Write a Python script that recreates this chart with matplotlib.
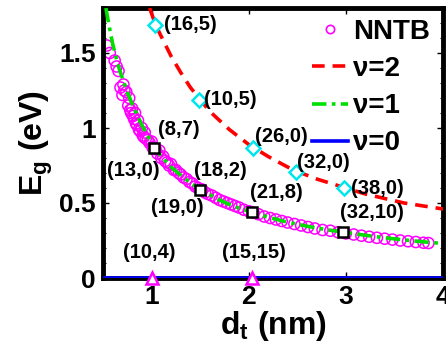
import matplotlib
matplotlib.use("Agg")
import matplotlib.pyplot as plt
from matplotlib.ticker import MultipleLocator

plt.rcParams['font.family'] = ['Liberation Sans', 'DejaVu Sans']
plt.rcParams['font.weight'] = 'bold'
plt.rcParams['mathtext.fontset'] = 'custom'
plt.rcParams['mathtext.rm'] = 'Liberation Sans:bold'
plt.rcParams['mathtext.it'] = 'Liberation Sans:bold'
plt.rcParams['mathtext.bf'] = 'Liberation Sans:bold'
plt.rcParams['mathtext.default'] = 'rm'

# ---- data ----
# NNTB scatter (diameter nm, gap eV)
nntb_d = [0.54, 0.57, 0.62, 0.64, 0.66, 0.68, 0.70, 0.71, 0.72, 0.74, 0.76, 0.77, 0.78,
          0.79, 0.80, 0.81, 0.82, 0.83, 0.84, 0.85, 0.86, 0.87, 0.88, 0.90, 0.91, 0.92,
          0.93, 0.94, 0.96, 0.98, 1.00, 1.01, 1.04, 1.06, 1.08, 1.10, 1.12, 1.14, 1.16,
          1.18, 1.20, 1.23, 1.25, 1.28, 1.30, 1.33, 1.36, 1.39, 1.42, 1.45, 1.48, 1.52,
          1.55, 1.58, 1.62, 1.66, 1.70, 1.74, 1.78, 1.82, 1.86, 1.90, 1.95, 2.00, 2.05,
          2.10, 2.16, 2.22, 2.28, 2.34, 2.40, 2.47, 2.54, 2.61, 2.68, 2.76, 2.84, 2.92,
          3.00, 3.08, 3.16, 3.24, 3.32, 3.40, 3.48, 3.56, 3.64, 3.72, 3.80, 3.85]
nntb_eg = [1.55, 1.50, 1.45, 1.41, 1.38, 1.27, 1.22, 1.29, 1.25, 1.24, 1.15, 1.20, 1.12,
           1.10, 1.13, 1.08, 1.06, 1.10, 1.03, 1.02, 1.05, 0.99, 0.98, 1.00, 0.95, 0.94,
           0.97, 0.93, 0.92, 0.90, 0.91, 0.87, 0.86, 0.83, 0.85, 0.80, 0.81, 0.78, 0.77,
           0.75, 0.76, 0.72, 0.72, 0.70, 0.69, 0.67, 0.66, 0.64, 0.63, 0.61, 0.60, 0.59,
           0.57, 0.56, 0.55, 0.535, 0.52, 0.51, 0.50, 0.49, 0.48, 0.47, 0.455, 0.445, 0.435,
           0.425, 0.41, 0.40, 0.39, 0.38, 0.37, 0.36, 0.35, 0.34, 0.33, 0.32, 0.315, 0.305,
           0.297, 0.29, 0.282, 0.275, 0.268, 0.262, 0.256, 0.25, 0.245, 0.24, 0.235, 0.233]

# nu = 2 curve
nu2_d = [0.98, 1.04, 1.1, 1.2, 1.3, 1.4, 1.5, 1.6, 1.7, 1.8, 1.9, 2.0, 2.1, 2.2, 2.3, 2.4,
         2.5, 2.6, 2.7, 2.8, 2.9, 3.0, 3.2, 3.4, 3.6, 3.8, 4.0]
nu2_eg = [1.80, 1.69, 1.61, 1.48, 1.37, 1.27, 1.19, 1.11, 1.05, 0.99, 0.94, 0.89, 0.85,
          0.81, 0.775, 0.74, 0.71, 0.685, 0.66, 0.64, 0.62, 0.60, 0.56, 0.53, 0.50, 0.48, 0.46]

# nu = 1 curve
nu1_d = [0.53, 0.56, 0.6, 0.65, 0.7, 0.75, 0.8, 0.85, 0.9, 0.95, 1.0, 1.1, 1.2, 1.3, 1.4,
         1.5, 1.6, 1.7, 1.8, 1.9, 2.0, 2.2, 2.4, 2.6, 2.8, 3.0, 3.2, 3.4, 3.6, 3.8, 4.0]
nu1_eg = [1.80, 1.69, 1.56, 1.43, 1.33, 1.24, 1.16, 1.09, 1.02, 0.96, 0.90, 0.81, 0.74,
          0.685, 0.635, 0.59, 0.555, 0.52, 0.49, 0.465, 0.445, 0.405, 0.372, 0.345, 0.322,
          0.303, 0.285, 0.268, 0.254, 0.241, 0.23]

# nu = 0 curve
nu0_d = [0.5, 4.0]
nu0_eg = [0.0, 0.0]

# highlighted tubes
sq_d = [1.03, 1.50, 2.03, 2.975]
sq_eg = [0.867, 0.59, 0.44, 0.307]
dia_d = [1.04, 1.49, 2.04, 2.49, 2.98]
dia_eg = [1.69, 1.19, 0.87, 0.71, 0.60]
tri_d = [1.0, 2.03]
tri_eg = [0.0, 0.0]

labels = ['(16,5)', '(10,5)', '(26,0)', '(32,0)', '(38,0)', '(8,7)', '(13,0)', '(18,2)',
          '(19,0)', '(21,8)', '(32,10)', '(10,4)', '(15,15)']
label_x = [1.13, 1.54, 2.06, 2.50, 3.05, 1.07, 0.81, 1.44, 1.27, 2.28, 3.27, 0.98, 2.05]
label_y = [1.69, 1.19, 0.94, 0.77, 0.60, 0.99, 0.72, 0.72, 0.47, 0.57, 0.44, 0.167, 0.167]
label_ha = ['left', 'left', 'left', 'left', 'left', 'left', 'center', 'left',
            'center', 'center', 'center', 'center', 'center']

fig = plt.figure(figsize=(4.46, 3.49), dpi=100)
ax = fig.add_axes([103/446, 1-278/349, 340/446, 270/349])

ax.scatter(nntb_d, nntb_eg, s=64, facecolors='none', edgecolors='#ff00ff',
           linewidths=1.1, zorder=2)
ax.plot(nu2_d, nu2_eg, color='#ff0000', lw=2.6, ls=(0, (3.5, 2.2)), zorder=3)
ax.plot(nu1_d, nu1_eg, color='#00e000', lw=2.6, ls=(0, (4.0, 1.5, 1.0, 1.5)), zorder=3)
ax.plot(nu0_d, nu0_eg, color='#0000ff', lw=2.6, zorder=3)

ax.plot(sq_d, sq_eg, ls='none', marker='s', ms=7.5, mfc='white', mec='black', mew=1.8, zorder=5)
ax.plot(dia_d, dia_eg, ls='none', marker='D', ms=7, mfc='white', mec='#00e5ee', mew=1.8, zorder=5)
ax.plot(tri_d, tri_eg, ls='none', marker='^', ms=9, mfc='white', mec='#ff00ff', mew=1.8,
        zorder=5, clip_on=False)

for t, x, y, ha in zip(labels, label_x, label_y, label_ha):
    ax.text(x, y, t, fontsize=14.5, fontweight='bold', ha=ha, va='center', zorder=6)

# legend proxies
h1, = ax.plot([], [], ls='none', marker='o', ms=6, mfc='none', mec='#ff00ff', mew=1.2)
h2, = ax.plot([], [], color='#ff0000', lw=2.6, ls=(0, (3.5, 2.2)))
h3, = ax.plot([], [], color='#00e000', lw=2.6, ls=(0, (4.0, 1.5, 1.0, 1.5)))
h4, = ax.plot([], [], color='#0000ff', lw=2.6)
leg = ax.legend([h1, h2, h3, h4], ['NNTB', 'ν=2', 'ν=1', 'ν=0'], loc='upper right',
                frameon=False, prop={'size': 20, 'weight': 'bold'}, handlelength=1.3,
                handletextpad=0.2, labelspacing=0.4, borderaxespad=0.0,
                bbox_to_anchor=(0.995, 1.0))

ax.set_xlim(0.5, 4.0)
ax.set_ylim(0, 1.8)
ax.set_xticks([1, 2, 3, 4])
ax.set_yticks([0, 0.5, 1, 1.5])
ax.set_yticklabels(['0', '0.5', '1', '1.5'])
ax.yaxis.set_minor_locator(MultipleLocator(0.1))
ax.tick_params(which='both', direction='in', top=True, right=True, labelsize=19, pad=5)
ax.tick_params(which='major', length=4, width=1)
ax.tick_params(which='minor', length=2, width=0.8)
for lab in ax.get_xticklabels() + ax.get_yticklabels():
    lab.set_fontweight('bold')
for sp in ax.spines.values():
    sp.set_linewidth(3.5)

ax.set_xlabel(r'd$_{t}$ (nm)', fontsize=23, fontweight='bold', labelpad=0)
ax.set_ylabel(r'E$_{g}$ (eV)', fontsize=23, fontweight='bold', labelpad=3)

fig.savefig('out.png', dpi=100)
